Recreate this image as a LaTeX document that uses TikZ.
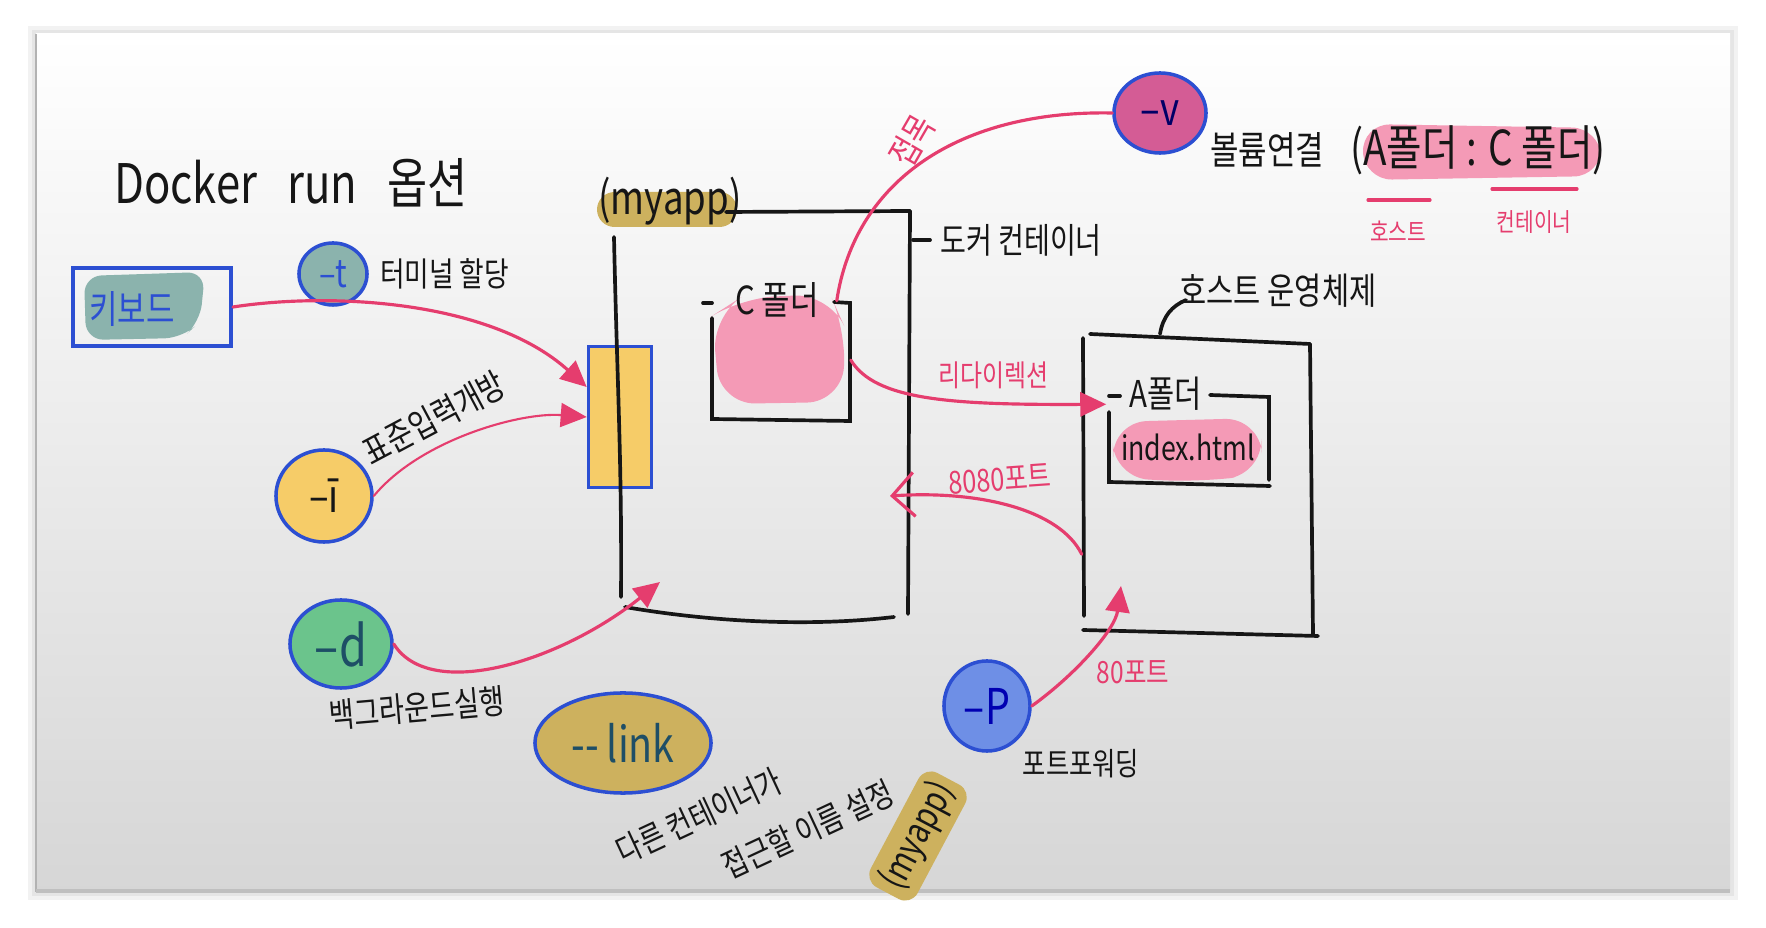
\documentclass[tikz,border=0pt]{standalone}
\usepackage{fontspec}
\newfontfamily\hand[FakeStretch=0.8]{Noto Sans CJK KR}
\usetikzlibrary{shapes.geometric,arrows.meta}
\definecolor{ink}{HTML}{161616}
\definecolor{bline}{HTML}{2C4FD2}
\definecolor{pline}{HTML}{E53D6E}
\definecolor{pfill}{HTML}{F49AB6}
\definecolor{tealc}{HTML}{8BB3AD}
\definecolor{yel}{HTML}{F6CC68}
\definecolor{olive}{HTML}{CDB15E}
\definecolor{grn}{HTML}{6BC48C}
\definecolor{vfill}{HTML}{D45C95}
\definecolor{pblue}{HTML}{6E8FE6}
\definecolor{dteal}{HTML}{1E4E66}
\newcommand\hsz[1]{\fontsize{#1}{#1}\selectfont}
\begin{document}
\begin{tikzpicture}[x=0.01cm,y=-0.01cm,
  opt/.style={ellipse, draw=bline, line width=1pt, inner sep=0pt},
  lbl/.style={font=\hand, text=ink, inner sep=1pt},
  plbl/.style={font=\hand, text=pline, inner sep=1pt},
  blk/.style={draw=ink, line width=1.05pt, line cap=round},
  pcurve/.style={draw=pline, line width=0.9pt, line cap=round},
  parr/.style={pcurve, -{Triangle[length=2.6mm,width=2.4mm]}},
  popen/.style={pcurve, -{Straight Barb[length=2.2mm,width=4.4mm]}},
  hl/.style={rounded corners=5pt}
]
\useasboundingbox (0,0) rectangle (1766,928);
% frame and panel
\fill[white] (0,0) rectangle (1766,928);
\fill[black, opacity=0.05] (28,26) rectangle (1738,900);
\fill[black, opacity=0.05] (32,30) rectangle (1734,896);
\shade[top color=white, middle color=white, bottom color=black!16] (36,34) rectangle (1730,892);
\draw[black!30, line width=0.6pt] (36,34) -- (36,892);
\draw[black!25, line width=1pt] (36,891) -- (1730,891);

% title
\node[lbl, anchor=west, font=\hand\hsz{15.5}] (title) at (110,183) {Docker\hspace{0.3cm}run\hspace{0.3cm}옵션};

% keyboard
\fill[tealc, rounded corners=5pt] (84,276) -- (205,272) -- (200,322) -- (182,338) -- (86,340) -- cycle;
\node[draw=bline, line width=1.1pt, minimum width=1.58cm, minimum height=0.78cm] (kb) at (152,307) {};
\node[font=\hand\hsz{11}, text=bline] (kbt) at (132,309) {키보드};

% -t
\node[opt, fill=tealc, minimum width=0.68cm, minimum height=0.62cm, font=\hand\hsz{11}, text=bline] (t) at (333,274) {–t};
\node[lbl, anchor=west, font=\hand\hsz{9.5}] (tl) at (376,274) {터미널 할당};

% -i
\node[opt, fill=yel, minimum width=0.96cm, minimum height=0.92cm, font=\hand\hsz{13}, text=ink] (i) at (324,496) {–ī};
\node[lbl, font=\hand\hsz{10}, rotate=28] (il) at (434,418) {표준입력개방};

% -d
\node[opt, fill=grn, minimum width=1.02cm, minimum height=0.88cm, font=\hand\hsz{16}, text=dteal] (d) at (341,644) {–d};
\node[lbl, font=\hand\hsz{9.7}, rotate=5] (dl) at (417,708) {백그라운드실행};

% --link
\node[opt, fill=olive, minimum width=1.76cm, minimum height=1.0cm, font=\hand\hsz{14}, text=dteal] (link) at (623,743) {-{}-\,link};
\node[lbl, font=\hand\hsz{9.5}, rotate=25, align=left] (ll) at (755,822) {다른 컨테이너가\\[7pt]\hspace*{0.9cm}접근할 이름 설정};
\node[lbl, font=\hand\hsz{10.5}, rotate=62, fill=olive, rounded corners=4pt, inner sep=2pt] (lm) at (918,836) {(myapp)};

% container
\node[minimum width=2.92cm, minimum height=4.03cm] (cont) at (764,412) {};
\fill[olive, hl] (597,192) rectangle (737,227);
\node[lbl, font=\hand\hsz{13}] (cname) at (670,201) {(myapp)};
\draw[blk] (726,212) -- (910,211);
\draw[blk] (910,211) -- (908,614);
\draw[blk] (625,607) .. controls (700,620) and (800,628) .. (894,617);
\node[draw=bline, fill=yel, line width=1pt, minimum width=0.63cm, minimum height=1.41cm] (port) at (620,417) {};
\draw[blk] (614,237) .. controls (617,380) and (622,460) .. (621,597);
\draw[blk] (913,240) -- (930,240);
\node[lbl, anchor=west, font=\hand\hsz{10}] (cl) at (936,240) {도커 컨테이너};

% C folder
\node[minimum width=1.40cm, minimum height=1.17cm] (cf) at (780,360) {};
\fill[pfill, rounded corners=10pt] (712,316) -- (740,298) -- (830,294) -- (846,330) -- (842,402) -- (720,404) -- cycle;
\draw[blk] (712,318) -- (712,419) -- (850,421) -- (850,303) -- (834,302);
\draw[blk] (703,303) -- (712,303);
\node[lbl, font=\hand\hsz{11}] (cft) at (777,300) {C 폴더};

% host OS
\node[minimum width=2.29cm, minimum height=3.02cm] (host) at (1197,485) {};
\draw[blk] (1083,338) -- (1084,616);
\draw[blk] (1090,334) -- (1310,344);
\draw[blk] (1310,344) -- (1313,634);
\draw[blk] (1083,630) -- (1318,636);
\draw[blk] (1160,334) .. controls (1163,316) and (1172,306) .. (1186,300);
\node[lbl, font=\hand\hsz{10.5}] (hl) at (1278,291) {호스트 운영체제};

% A folder
\node[minimum width=1.62cm, minimum height=0.90cm] (af) at (1188,439) {};
\fill[pfill, rounded corners=10pt] (1112,422) -- (1260,418) -- (1263,474) -- (1200,482) -- (1114,478) -- cycle;
\draw[blk] (1109,396) -- (1120,396);
\draw[blk] (1210,395) -- (1269,397) -- (1269,480);
\draw[blk] (1109,412) -- (1109,482) -- (1270,486);
\node[lbl, font=\hand\hsz{10.5}] (aft) at (1166,394) {A폴더};
\node[lbl, font=\hand\hsz{9.5}] (idx) at (1188,447) {index.html};

% -v
\node[opt, fill=vfill, minimum width=0.92cm, minimum height=0.80cm, font=\hand\hsz{13}, text=blue!40!black] (v) at (1160,113) {–v};
\node[lbl, font=\hand\hsz{11}] (vl) at (1267,150) {볼륨연결};
\fill[pfill, rounded corners=8pt] (1362,124) -- (1600,128) -- (1602,176) -- (1364,180) -- cycle;
\node[lbl, font=\hand\hsz{13.7}] (vm) at (1478,150) {(A폴더 : C 폴더)};
\draw[pcurve] (1368,200) -- (1430,200);
\draw[pcurve] (1492,189) -- (1577,189);
\node[plbl, font=\hand\hsz{7.2}] (vh) at (1398,231) {호스트};
\node[plbl, font=\hand\hsz{7.2}] (vc) at (1534,222) {컨테이너};

% -p
\node[opt, fill=pblue, minimum width=0.86cm, minimum height=0.90cm, font=\hand\hsz{14}, text=blue!70!black] (p) at (987,706) {–P};
\node[lbl, font=\hand\hsz{9}] (pl) at (1081,764) {포트포워딩};

% connectors
\coordinate (dend) at (660,582);
\coordinate (c8080) at (890,496);
\coordinate (p80) at (1121,586);
\draw[parr] (kb.east) .. controls (330,292) and (490,300) .. (port.138);
\draw[parr, line width=0.6pt] (i.east) .. controls (420,440) and (520,412) .. (port.west);
\draw[parr] (d.east) .. controls (430,702) and (560,662) .. (dend);
\draw[pcurve] ([xshift=-0.14cm]cf.north east) .. controls (855,180) and (960,110) .. (v.west);
\draw[parr] (cf.east) .. controls (875,400) and (950,405) .. (af.157);
\draw[popen] (host.211) .. controls (1060,510) and (980,490) .. (c8080);
\draw[parr] (p.east) .. controls (1075,675) and (1115,630) .. (p80);

% connector labels
\node[plbl, font=\hand\hsz{10}, rotate=60] (vconn) at (912,141) {접목};
\node[plbl, font=\hand\hsz{8.5}] (redir) at (993,375) {리다이렉션};
\node[plbl, font=\hand\hsz{9}, rotate=4] (p8080) at (1000,479) {8080포트};
\node[plbl, font=\hand\hsz{8.7}] (p80l) at (1133,672) {80포트};
\end{tikzpicture}
\end{document}
